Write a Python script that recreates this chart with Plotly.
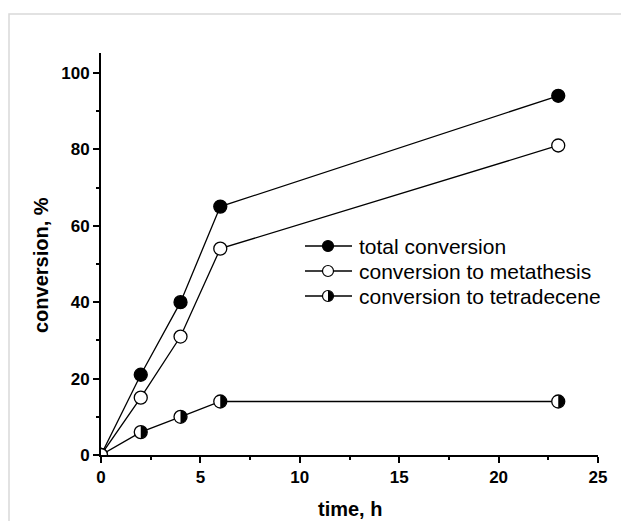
import plotly.graph_objects as go

# Reaction time (h) and conversions (%)
time_h = [0, 2, 4, 6, 23]
total_conversion = [0, 21, 40, 65, 94]
conversion_metathesis = [0, 15, 31, 54, 81]
conversion_tetradecene = [0, 6, 10, 14, 14]

series_names = ["total conversion", "conversion to metathesis", "conversion to tetradecene"]

x_ticks = [0, 5, 10, 15, 20, 25]
y_ticks = [0, 20, 40, 60, 80, 100]

W, H = 621, 521
L, R, T, B = 101, 23, 53, 66
PW, PH = W - L - R, H - T - B

FONT = "Liberation Sans, Arial, sans-serif"
K = 0.5523  # cubic Bezier constant for a quarter circle


def right_half_disc(r):
    k = K * r
    return (f"M 0,{r} C {k},{r} {r},{k} {r},0 "
            f"C {r},{-k} {k},{-r} 0,{-r} Z")


def px_to_paper(px, py):
    return (px - L) / PW, (T + PH - py) / PH


fig = go.Figure()

marker_line = dict(color="black", width=1.3)
fig.add_trace(go.Scatter(
    x=time_h, y=total_conversion, mode="lines+markers", name=series_names[0],
    line=dict(color="black", width=1.3),
    marker=dict(symbol="circle", size=13, color="black", line=marker_line),
))
fig.add_trace(go.Scatter(
    x=time_h, y=conversion_metathesis, mode="lines+markers", name=series_names[1],
    line=dict(color="black", width=1.3),
    marker=dict(symbol="circle", size=13, color="white", line=marker_line),
))
fig.add_trace(go.Scatter(
    x=time_h, y=conversion_tetradecene, mode="lines+markers", name=series_names[2],
    line=dict(color="black", width=1.3),
    marker=dict(symbol="circle", size=13, color="white", line=marker_line),
))

shapes = []
# right half of the tetradecene markers filled black
for xv, yv in zip(time_h[1:], conversion_tetradecene[1:]):
    shapes.append(dict(
        type="path", xref="x", yref="y", xsizemode="pixel", ysizemode="pixel",
        xanchor=xv, yanchor=yv, path=right_half_disc(6.3),
        fillcolor="black", line=dict(width=0), layer="above",
    ))

# hand-built legend
legend_rows_py = [246, 271, 296]
line_x0, line_x1, mark_x, text_x = 305, 352, 328, 357
fills = ["black", "white", "white"]
annotations = []
for i, (name, py) in enumerate(zip(series_names, legend_rows_py)):
    ax0, ay = px_to_paper(line_x0, py)
    ax1, _ = px_to_paper(line_x1, py)
    mx, _ = px_to_paper(mark_x, py)
    shapes.append(dict(type="line", xref="paper", yref="paper",
                       x0=ax0, x1=ax1, y0=ay, y1=ay,
                       line=dict(color="black", width=1.3), layer="above"))
    shapes.append(dict(type="circle", xref="paper", yref="paper",
                       xsizemode="pixel", ysizemode="pixel", xanchor=mx, yanchor=ay,
                       x0=-5.5, x1=5.5, y0=-5.5, y1=5.5,
                       fillcolor=fills[i], line=dict(color="black", width=1.2),
                       layer="above"))
    if i == 2:
        shapes.append(dict(type="path", xref="paper", yref="paper",
                           xsizemode="pixel", ysizemode="pixel", xanchor=mx, yanchor=ay,
                           path=right_half_disc(5.3), fillcolor="black",
                           line=dict(width=0), layer="above"))
    tx, _ = px_to_paper(text_x, py)
    annotations.append(dict(x=tx, y=ay, xref="paper", yref="paper", text=name,
                            showarrow=False, xanchor="left", yanchor="middle",
                            font=dict(family=FONT, size=21, color="black")))

# light frame around the figure
bx0, by0 = px_to_paper(9, 14)
bx1, by1 = px_to_paper(640, 540)
shapes.append(dict(type="rect", xref="paper", yref="paper",
                   x0=bx0, x1=bx1, y0=by1, y1=by0,
                   line=dict(color="#d9d9d9", width=1.5), layer="below"))

tickfont = dict(family=FONT, size=17, color="black", weight="bold")
titlefont = dict(family=FONT, size=20, color="black", weight="bold")

# axis titles
ytx, yty = px_to_paper(41, 265)
annotations.append(dict(x=ytx, y=yty, xref="paper", yref="paper",
                        text="conversion, %", textangle=-90, showarrow=False,
                        xanchor="center", yanchor="middle", font=titlefont))
_, xty = px_to_paper(0, 509)
annotations.append(dict(x=0.5, y=xty, xref="paper", yref="paper",
                        text="time, h", showarrow=False,
                        xanchor="center", yanchor="middle", font=titlefont))

fig.update_layout(
    width=W, height=H, margin=dict(l=L, r=R, t=T, b=B, autoexpand=False),
    paper_bgcolor="white", plot_bgcolor="white", showlegend=False,
    shapes=shapes, annotations=annotations,
    xaxis=dict(
        range=[0, 25], tickvals=x_ticks, ticktext=[str(v) for v in x_ticks],
        showline=True, linecolor="black", linewidth=2, mirror=False,
        ticks="outside", ticklen=6, tickwidth=2, tickcolor="black",
        minor=dict(ticks="outside", ticklen=3, tickwidth=2, tickcolor="black", dtick=2.5),
        showgrid=False, zeroline=False, tickfont=tickfont, automargin=False,
    ),
    yaxis=dict(
        range=[0, 105.2], tickvals=y_ticks, ticktext=[str(v) for v in y_ticks],
        showline=True, linecolor="black", linewidth=2, mirror=False,
        ticks="outside", ticklen=6, tickwidth=2, tickcolor="black",
        minor=dict(ticks="outside", ticklen=3, tickwidth=2, tickcolor="black", dtick=10),
        showgrid=False, zeroline=False, tickfont=tickfont, automargin=False,
    ),
)

fig.write_html("out.html")
